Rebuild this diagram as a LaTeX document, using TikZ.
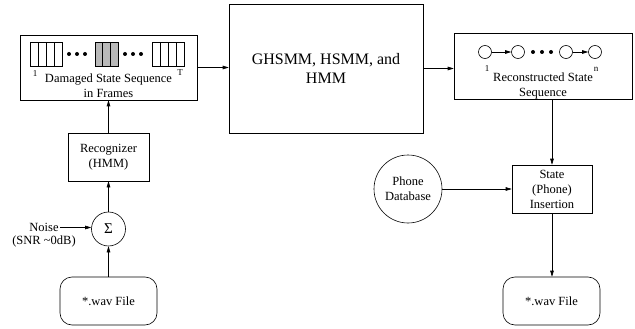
\documentclass[tikz,border=0pt]{standalone}
\usepackage{fontspec}
\setmainfont{Liberation Serif}
\usetikzlibrary{positioning,arrows.meta}

\begin{document}
\begin{tikzpicture}[
        x=1pt, y=-1pt,
        font=\fontsize{12.5}{15}\selectfont,
        line width=0.6pt,
        >={Triangle[length=6pt,width=3.6pt]},
        block/.style={draw, align=center, inner sep=0pt},
        filebox/.style={block, rounded corners=12pt, minimum width=97pt, minimum height=48pt},
        round/.style={circle, draw, align=center, inner sep=0pt},
        idx/.style={font=\fontsize{9}{10}\selectfont, inner sep=0pt}
    ]
        \useasboundingbox (0,0) rectangle (635,329);

        % Define blocks
        \node[block, minimum width=177pt, minimum height=65pt] (damaged) at (108.5,67.5) {};
        \node[align=center, inner sep=0pt] (damagedtext) at (108.5,86) {Damaged State Sequence\\in Frames};
        \node[block, minimum width=194pt, minimum height=129pt, font=\fontsize{16}{19}\selectfont] (model) at (326,68.5) {GHSMM, HSMM, and\\HMM};
        \node[block, minimum width=178pt, minimum height=66pt] (recon) at (543,66) {};
        \node[align=center, inner sep=0pt] (recontext) at (543,85.5) {Reconstructed State\\Sequence};
        \node[block, minimum width=81pt, minimum height=48pt] (recog) at (108.5,157) {Recognizer\\(HMM)};
        \node[round, minimum size=34pt, font=\fontsize{15}{18}\selectfont] (sigma) at (108.5,229) {Σ};
        \node[filebox] (wavin) at (108.5,301) {*.wav File};
        \node[inner sep=1pt] (noise) at (44,227.5) {Noise};
        \node[inner sep=0pt, below=3pt of noise] (snr) {(SNR \textasciitilde 0dB)};
        \node[round, minimum size=68pt] (phone) at (408,189) {Phone\\Database};
        \node[block, minimum width=80pt, minimum height=48pt] (insert) at (552,189) {State\\(Phone)\\Insertion};
        \node[filebox] (wavout) at (551.5,301) {*.wav File};

        % Frames of the damaged sequence
        \foreach \x in {30,38,46,54,152,160,168,176}
            \draw (\x,42) rectangle +(8,24);
        \foreach \i in {0,1,2}
            \filldraw[fill=gray!55] (95+7.7*\i,42) rectangle +(7.7,24);
        \foreach \x in {69,77,85,125,133,141}
            \fill (\x,54) circle (2pt);
        \node[idx] (first) at (35,74) {1};
        \node[idx] (last) at (180,73) {T};

        % Reconstructed states
        \foreach \n/\x in {s1/485,s2/518,s3/566,s4/595}
            \node[round, minimum size=13pt] (\n) at (\x,52) {};
        \foreach \x in {533,542,551}
            \fill (\x,52) circle (2pt);
        \draw[->] (s1) -- (s2);
        \draw[->] (s3) -- (s4);
        \node[idx] (sfirst) at (487,69) {1};
        \node[idx] (slast) at (596,69) {n};

        % Signal path
        \draw[->] (wavin) -- (sigma);
        \draw[->] (noise.east) -- (noise.east -| sigma.west);
        \draw[->] (sigma) -- (recog);
        \draw[->] (recog) -- (damaged.south);
        \draw[->] (damaged.east) -- (damaged.east -| model.west);
        \draw[->] (model.east) -- (model.east -| recon.west);
        \draw[->] (recon.south -| insert.north) -- (insert.north);
        \draw[->] (phone) -- (insert);
        \draw[->] (insert.south) -- (insert.south |- wavout.north);

    \end{tikzpicture}
\end{document}
